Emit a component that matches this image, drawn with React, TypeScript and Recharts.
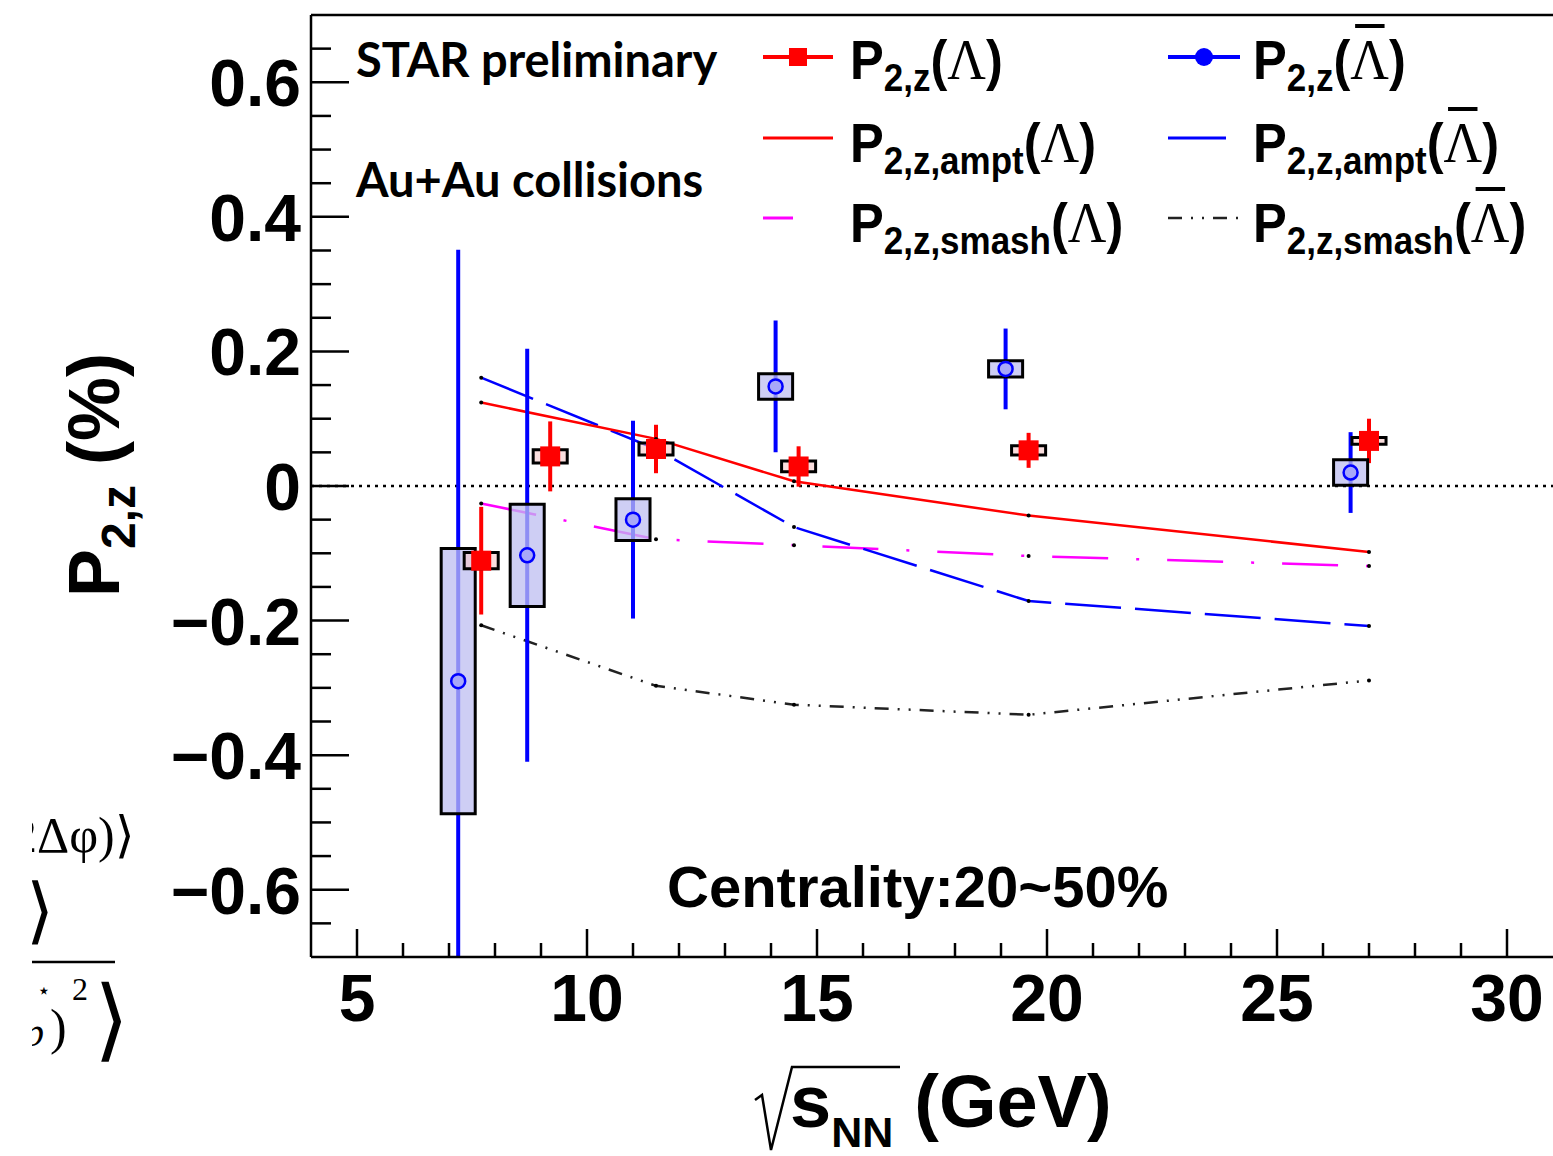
import React from "react";
import {
  ComposedChart,
  Line,
  Scatter,
  ErrorBar,
  XAxis,
  YAxis,
  ReferenceLine,
  ReferenceArea,
} from "recharts";

// measured Lambda points
const lambdaEnergy = [7.7, 9.2, 11.5, 14.6, 19.6, 27.0];
const lambdaValue = [-0.111, 0.044, 0.055, 0.029, 0.053, 0.067];
const lambdaStat = [0.08, 0.052, 0.036, 0.03, 0.026, 0.033];
const lambdaSys = [0.012, 0.01, 0.009, 0.008, 0.007, 0.005];

// measured anti-Lambda points (shifted left for visibility)
// stat errors as [down, up]; the first one runs off the bottom of the frame
const antiEnergy = [7.2, 8.7, 11.0, 14.1, 19.1, 26.6];
const antiValue = [-0.29, -0.103, -0.05, 0.148, 0.174, 0.02];
const antiStatDown = [0.41, 0.307, 0.147, 0.098, 0.06, 0.06];
const antiStatUp = [0.641, 0.307, 0.147, 0.098, 0.06, 0.06];
const antiSys = [0.197, 0.076, 0.031, 0.019, 0.012, 0.019];

// model curves
const modelEnergy = [7.7, 11.5, 14.5, 19.6, 27.0];
const amptLambda = [0.124, 0.07, 0.007, -0.044, -0.098];
const amptAnti = [0.161, 0.055, -0.061, -0.171, -0.208];
const smashLambda = [-0.026, -0.079, -0.088, -0.104, -0.119];
const smashAnti = [-0.207, -0.297, -0.325, -0.34, -0.289];

const xMajorTicks = [5, 10, 15, 20, 25, 30];
const yMajorTicks = [-0.6, -0.4, -0.2, 0, 0.2, 0.4, 0.6];
const yTickLabels = ["\u22120.6", "\u22120.4", "\u22120.2", "0", "0.2", "0.4", "0.6"];

const W = 1553;
const H = 1156;
const SANS = "'Liberation Sans', Arial, sans-serif";
const SERIF = "'Liberation Serif', 'Times New Roman', serif";
const CAL = "Lato, 'Open Sans', sans-serif";
const BOX_HALF = 0.37;

const xTicks: number[] = [];
for (let v = 5; v <= 30; v++) xTicks.push(v);
const yTicks: number[] = [];
for (let i = -13; i <= 13; i++) yTicks.push(Math.round(i * 5) / 100);

const lambdaPts = lambdaEnergy.map((x, i) => ({
  x,
  y: lambdaValue[i],
  stat: [lambdaStat[i], lambdaStat[i]],
  sys: lambdaSys[i],
}));
const antiPts = antiEnergy.map((x, i) => ({
  x,
  y: antiValue[i],
  stat: [antiStatDown[i], antiStatUp[i]],
  sys: antiSys[i],
}));
const curve = (ys: number[]) => modelEnergy.map((x, i) => ({ x, y: ys[i] }));

const DASH_BLUE = "56 14";
const DASH_MAG = "56 28 3 28";
const DASH_BLK = "14 9 2 9 2 9";

function XTick(props: any) {
  const { x, y, payload } = props;
  const major = xMajorTicks.includes(payload.value);
  return (
    <g>
      <line x1={x} x2={x} y1={y} y2={y - (major ? 28 : 14)} stroke="#000" strokeWidth={2.5} />
      {major && (
        <text x={x} y={y + 64} textAnchor="middle" fontFamily={SANS} fontWeight="bold" fontSize={66} fill="#000">
          {payload.value}
        </text>
      )}
    </g>
  );
}

function YTick(props: any) {
  const { x, y, payload } = props;
  const idx = yMajorTicks.findIndex((t) => Math.abs(t - payload.value) < 1e-6);
  const major = idx >= 0;
  return (
    <g>
      <line x1={x} x2={x + (major ? 38 : 20)} y1={y} y2={y} stroke="#000" strokeWidth={2.5} />
      {major && (
        <text x={x - 10} y={y + 24} textAnchor="end" fontFamily={SANS} fontWeight="bold" fontSize={66} fill="#000">
          {yTickLabels[idx]}
        </text>
      )}
    </g>
  );
}

const Blank = () => <g />;
const RedSquare = (p: any) => <rect x={p.cx - 10} y={p.cy - 10} width={20} height={20} fill="#ff0000" />;
const BlueCircle = (p: any) => (
  <circle cx={p.cx} cy={p.cy} r={7} fill="#a8a8f8" stroke="#0000ff" strokeWidth={2.5} />
);

const nodeDot = { r: 2, fill: "#000", stroke: "none", strokeDasharray: "" };

function Lam({ anti }: { anti: boolean }) {
  return (
    <span style={{ fontFamily: SERIF, fontWeight: 400, fontSize: 58, position: "relative" }}>
      Λ
      {anti && (
        <span style={{ position: "absolute", left: 5, right: 5, top: -7, height: 4, background: "#000" }} />
      )}
    </span>
  );
}

function PLabel({ x, base, sub, anti }: { x: number; base: number; sub: string; anti: boolean }) {
  return (
    <div
      style={{
        position: "absolute",
        left: x,
        top: base - 46,
        display: "flex",
        alignItems: "baseline",
        lineHeight: 1,
        fontFamily: SANS,
        fontWeight: 700,
        fontSize: 55,
        whiteSpace: "nowrap",
        color: "#000",
        transformOrigin: "0 0",
        transform: "scaleX(0.92)",
      }}
    >
      <span>P</span>
      <span style={{ fontSize: 38, position: "relative", top: 12 }}>{sub}</span>
      <span>(</span>
      <Lam anti={anti} />
      <span>)</span>
    </div>
  );
}

const legendRows = [
  { base: 77, sub: "2,z" },
  { base: 160, sub: "2,z,ampt" },
  { base: 240, sub: "2,z,smash" },
];

export default function App() {
  return (
    <div style={{ position: "absolute", left: 0, top: 0, width: W, height: H, overflow: "hidden", background: "#fff" }}>
      <ComposedChart width={W} height={H} margin={{ top: 15, right: 0, bottom: 0, left: 0 }}>
        <XAxis
          type="number"
          dataKey="x"
          domain={[4, 31]}
          allowDataOverflow
          ticks={xTicks}
          interval={0}
          height={199}
          tickSize={0}
          tickMargin={0}
          tick={<XTick />}
          axisLine={{ stroke: "#000", strokeWidth: 2.5 }}
          tickLine={false}
        />
        <YAxis
          type="number"
          dataKey="y"
          domain={[-0.7, 0.7]}
          allowDataOverflow
          ticks={yTicks}
          interval={0}
          width={311}
          tickSize={0}
          tickMargin={0}
          tick={<YTick />}
          axisLine={{ stroke: "#000", strokeWidth: 2.5 }}
          tickLine={false}
        />
        <ReferenceLine y={0.7} stroke="#000" strokeWidth={2.5} />
        <ReferenceLine y={0} stroke="#000" strokeWidth={2.5} strokeDasharray="3 5" />

        <Line data={curve(smashAnti)} dataKey="y" type="linear" stroke="#222" strokeWidth={2.5} strokeDasharray={DASH_BLK} dot={nodeDot} activeDot={false} isAnimationActive={false} />
        <Line data={curve(smashLambda)} dataKey="y" type="linear" stroke="#ff00ff" strokeWidth={2.5} strokeDasharray={DASH_MAG} dot={nodeDot} activeDot={false} isAnimationActive={false} />
        <Line data={curve(amptAnti)} dataKey="y" type="linear" stroke="#0000ff" strokeWidth={2.5} strokeDasharray={DASH_BLUE} dot={nodeDot} activeDot={false} isAnimationActive={false} />
        <Line data={curve(amptLambda)} dataKey="y" type="linear" stroke="#ff0000" strokeWidth={2.5} dot={nodeDot} activeDot={false} isAnimationActive={false} />

        <Scatter data={antiPts} dataKey="y" shape={Blank} isAnimationActive={false}>
          <ErrorBar dataKey="stat" direction="y" width={0} stroke="#0000ff" strokeWidth={4} isAnimationActive={false} />
        </Scatter>
        <Scatter data={lambdaPts} dataKey="y" shape={Blank} isAnimationActive={false}>
          <ErrorBar dataKey="stat" direction="y" width={0} stroke="#ff0000" strokeWidth={4} isAnimationActive={false} />
        </Scatter>

        {antiPts.map((p, i) => (
          <ReferenceArea
            key={"a" + i}
            x1={p.x - BOX_HALF}
            x2={p.x + BOX_HALF}
            y1={p.y - p.sys}
            y2={p.y + p.sys}
            fill="#bebef0"
            fillOpacity={0.75}
            stroke="#000"
            strokeWidth={3}
            ifOverflow="visible"
            zIndex={550}
          />
        ))}
        {lambdaPts.map((p, i) => (
          <ReferenceArea
            key={"l" + i}
            x1={p.x - BOX_HALF}
            x2={p.x + BOX_HALF}
            y1={p.y - p.sys}
            y2={p.y + p.sys}
            fill="#f6c8c8"
            fillOpacity={0.6}
            stroke="#000"
            strokeWidth={3}
            ifOverflow="visible"
            zIndex={550}
          />
        ))}

        <Scatter data={antiPts} dataKey="y" shape={BlueCircle} isAnimationActive={false} zIndex={700} />
        <Scatter data={lambdaPts} dataKey="y" shape={RedSquare} isAnimationActive={false} zIndex={700} />
      </ComposedChart>

      <svg width={W} height={H} style={{ position: "absolute", left: 0, top: 0, pointerEvents: "none" }}>
        <defs>
          <clipPath id="leftcut">
            <rect x={32} y={0} width={300} height={H} />
          </clipPath>
        </defs>
        {/* legend samples */}
        <line x1={763} x2={833} y1={57} y2={57} stroke="#ff0000" strokeWidth={4} />
        <rect x={789} y={48} width={18} height={18} fill="#ff0000" />
        <line x1={1168} x2={1240} y1={57} y2={57} stroke="#0000ff" strokeWidth={4} />
        <circle cx={1204} cy={57} r={9} fill="#0000ff" />
        <line x1={763} x2={833} y1={138} y2={138} stroke="#ff0000" strokeWidth={3} />
        <line x1={1168} x2={1226} y1={138} y2={138} stroke="#0000ff" strokeWidth={3} />
        <line x1={763} x2={793} y1={218} y2={218} stroke="#ff00ff" strokeWidth={3} />
        <line x1={1168} x2={1242} y1={218} y2={218} stroke="#222" strokeWidth={2.5} strokeDasharray={DASH_BLK} />

        {/* sqrt sign */}
        <path d="M 755 1100 L 762 1095 L 771 1150 L 792 1067 L 900 1067" fill="none" stroke="#000" strokeWidth={2.5} />

        {/* leftovers of a neighbouring formula, cut at the left edge */}
        <g clipPath="url(#leftcut)" fontFamily={SERIF} fill="#000">
          <text x={12} y={852} fontSize={50}>2Δφ)⟩</text>
          <text x={26} y={935} fontSize={72}>⟩</text>
          <line x1={32} x2={115} y1={962} y2={962} stroke="#000" strokeWidth={2.5} />
          <text x={37} y={998} fontSize={22}>⋆</text>
          <text x={24} y={1046} fontSize={40} fontStyle="italic">p</text>
          <text x={50} y={1044} fontSize={50}>)</text>
          <text x={72} y={1000} fontSize={32}>2</text>
          <text x={94} y={1050} fontSize={90}>⟩</text>
        </g>
      </svg>

      {legendRows.map((r, i) => (
        <React.Fragment key={i}>
          <PLabel x={850} base={r.base} sub={r.sub} anti={false} />
          <PLabel x={1253} base={r.base} sub={r.sub} anti={true} />
        </React.Fragment>
      ))}

      <div style={{ position: "absolute", left: 356, top: 77 - 47, fontFamily: CAL, fontWeight: 700, fontSize: 47, lineHeight: "58px", whiteSpace: "nowrap" }}>
        STAR preliminary
      </div>
      <div style={{ position: "absolute", left: 356, top: 197 - 47, fontFamily: CAL, fontWeight: 700, fontSize: 47, lineHeight: "58px", whiteSpace: "nowrap" }}>
        Au+Au collisions
      </div>
      <div style={{ position: "absolute", left: 667, top: 906 - 48, fontFamily: SANS, fontWeight: 700, fontSize: 58, lineHeight: 1, whiteSpace: "nowrap" }}>
        Centrality:20~50%
      </div>

      {/* x axis title */}
      <div style={{ position: "absolute", left: 790, top: 1127 - 62, display: "flex", alignItems: "baseline", lineHeight: 1, fontFamily: SANS, fontWeight: 700, fontSize: 74, whiteSpace: "nowrap" }}>
        <span>s</span>
        <span style={{ fontSize: 43, position: "relative", top: 20 }}>NN</span>
        <span style={{ marginLeft: 21 }}>(GeV)</span>
      </div>

      {/* y axis title */}
      <div
        style={{
          position: "absolute",
          left: 58,
          top: 597,
          transformOrigin: "0 0",
          transform: "rotate(-90deg)",
          display: "flex",
          alignItems: "baseline",
          lineHeight: 1,
          fontFamily: SANS,
          fontWeight: 700,
          fontSize: 72,
          whiteSpace: "nowrap",
        }}
      >
        <span>P</span>
        <span style={{ fontSize: 48, position: "relative", top: 16 }}>2,z</span>
        <span style={{ marginLeft: 20 }}>(%)</span>
      </div>
    </div>
  );
}
